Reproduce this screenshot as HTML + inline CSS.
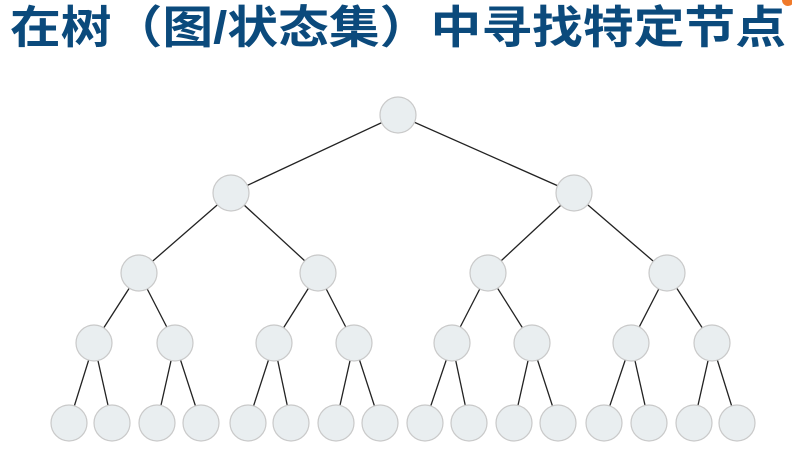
<!DOCTYPE html>
<html><head><meta charset="utf-8"><style>
html,body{margin:0;padding:0;background:#fff;width:792px;height:449px;overflow:hidden}
</style></head><body>
<svg width="792" height="449" xmlns="http://www.w3.org/2000/svg">
<circle cx="788" cy="0" r="6" fill="#f07a2a"/>
<text x="10" y="43" font-family="'Liberation Sans','Noto Sans CJK SC',sans-serif" font-size="45" font-weight="bold" fill="#0b4a7c" textLength="776" lengthAdjust="spacingAndGlyphs">在树（图/状态集）中寻找特定节点</text>
<g stroke="#222" stroke-width="1.3">
<line x1="398" y1="115" x2="231" y2="193"/><line x1="398" y1="115" x2="574" y2="193"/>
<line x1="231" y1="193" x2="139" y2="273"/><line x1="231" y1="193" x2="318" y2="273"/>
<line x1="574" y1="193" x2="488" y2="273"/><line x1="574" y1="193" x2="667" y2="273"/>
<line x1="139" y1="273" x2="94" y2="343"/><line x1="139" y1="273" x2="175" y2="343"/>
<line x1="318" y1="273" x2="274" y2="343"/><line x1="318" y1="273" x2="354" y2="343"/>
<line x1="488" y1="273" x2="452" y2="343"/><line x1="488" y1="273" x2="532" y2="343"/>
<line x1="667" y1="273" x2="631" y2="343"/><line x1="667" y1="273" x2="712" y2="343"/>
<line x1="94" y1="343" x2="69" y2="423"/><line x1="94" y1="343" x2="112" y2="423"/>
<line x1="175" y1="343" x2="157" y2="423"/><line x1="175" y1="343" x2="201" y2="423"/>
<line x1="274" y1="343" x2="248" y2="423"/><line x1="274" y1="343" x2="291" y2="423"/>
<line x1="354" y1="343" x2="336" y2="423"/><line x1="354" y1="343" x2="380" y2="423"/>
<line x1="452" y1="343" x2="425" y2="423"/><line x1="452" y1="343" x2="469" y2="423"/>
<line x1="532" y1="343" x2="514" y2="423"/><line x1="532" y1="343" x2="558" y2="423"/>
<line x1="631" y1="343" x2="604" y2="423"/><line x1="631" y1="343" x2="649" y2="423"/>
<line x1="712" y1="343" x2="694" y2="423"/><line x1="712" y1="343" x2="737" y2="423"/>
</g>
<g fill="#e9eef0" stroke="#c9c9c9" stroke-width="1.2">
<circle cx="398" cy="115" r="18"/>
<circle cx="231" cy="193" r="18"/><circle cx="574" cy="193" r="18"/>
<circle cx="139" cy="273" r="18"/><circle cx="318" cy="273" r="18"/><circle cx="488" cy="273" r="18"/><circle cx="667" cy="273" r="18"/>
<circle cx="94" cy="343" r="18"/><circle cx="175" cy="343" r="18"/><circle cx="274" cy="343" r="18"/><circle cx="354" cy="343" r="18"/>
<circle cx="452" cy="343" r="18"/><circle cx="532" cy="343" r="18"/><circle cx="631" cy="343" r="18"/><circle cx="712" cy="343" r="18"/>
<circle cx="69" cy="423" r="18"/><circle cx="112" cy="423" r="18"/><circle cx="157" cy="423" r="18"/><circle cx="201" cy="423" r="18"/>
<circle cx="248" cy="423" r="18"/><circle cx="291" cy="423" r="18"/><circle cx="336" cy="423" r="18"/><circle cx="380" cy="423" r="18"/>
<circle cx="425" cy="423" r="18"/><circle cx="469" cy="423" r="18"/><circle cx="514" cy="423" r="18"/><circle cx="558" cy="423" r="18"/>
<circle cx="604" cy="423" r="18"/><circle cx="649" cy="423" r="18"/><circle cx="694" cy="423" r="18"/><circle cx="737" cy="423" r="18"/>
</g>
</svg>
</body></html>
